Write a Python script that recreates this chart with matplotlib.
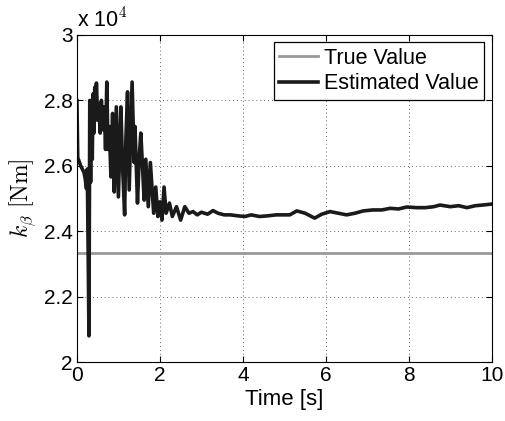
import numpy as np
import matplotlib
matplotlib.use('Agg')
import matplotlib.pyplot as plt
from matplotlib.ticker import FuncFormatter

plt.rcParams['font.family'] = ['Liberation Sans', 'DejaVu Sans']
plt.rcParams['mathtext.fontset'] = 'cm'

# stiffness estimate k_beta over time [Nm]
true_value = 23330.0

time = [0.00, 0.02, 0.05, 0.09, 0.13, 0.17, 0.20, 0.23, 0.25, 0.27, 0.29,
        0.31, 0.33, 0.35, 0.37, 0.39, 0.41, 0.43, 0.45, 0.47, 0.50, 0.53, 0.56,
        0.59, 0.62, 0.66, 0.69, 0.72, 0.75, 0.78, 0.82, 0.86, 0.90, 0.95, 1.00,
        1.06, 1.10, 1.15, 1.18, 1.22, 1.26, 1.33, 1.38, 1.40, 1.46, 1.50, 1.54,
        1.58, 1.62, 1.66, 1.72, 1.77, 1.85, 1.90, 1.95, 2.00, 2.05, 2.10, 2.15,
        2.23, 2.30, 2.40, 2.50, 2.60, 2.70,
        2.80, 2.90, 3.00, 3.15, 3.28, 3.40, 3.55, 3.70, 3.88, 4.05, 4.20, 4.40,
        4.60, 4.80, 5.00, 5.13, 5.30, 5.50, 5.73, 5.90, 6.10, 6.30, 6.50, 6.70,
        6.90, 7.13, 7.35, 7.55, 7.75, 7.95, 8.19, 8.40, 8.60, 8.75, 9.00, 9.20,
        9.40, 9.60, 9.78, 10.00]

estimate = [2.80, 2.625, 2.615, 2.60, 2.59, 2.58, 2.56, 2.53, 2.59, 2.35, 2.08,
            2.80, 2.55, 2.78, 2.62, 2.82, 2.70, 2.84, 2.74, 2.853, 2.74, 2.79, 2.70,
            2.80, 2.71, 2.78, 2.65, 2.856, 2.65, 2.72, 2.566, 2.76, 2.52, 2.78, 2.505,
            2.78, 2.60, 2.45, 2.68, 2.826, 2.526, 2.856, 2.61, 2.72, 2.486, 2.62, 2.70,
            2.60, 2.495, 2.62, 2.475, 2.61, 2.455, 2.535, 2.445, 2.49, 2.434, 2.535, 2.455,
            2.486, 2.445, 2.475, 2.434, 2.475, 2.455,
            2.46, 2.45, 2.458, 2.452, 2.463, 2.455, 2.45, 2.45, 2.447, 2.445, 2.45, 2.445,
            2.447, 2.45, 2.45, 2.45, 2.462, 2.455, 2.44, 2.452, 2.46, 2.455, 2.45, 2.455,
            2.462, 2.465, 2.465, 2.47, 2.468, 2.474, 2.472, 2.472, 2.475, 2.48, 2.475, 2.478,
            2.472, 2.478, 2.48, 2.483]
estimate = [v * 1e4 for v in estimate]

fig = plt.figure(figsize=(5.06, 4.21), dpi=100)
ax = fig.add_axes([0.152, 0.140, 0.820, 0.777])

ax.plot([0, 10], [true_value, true_value], color='0.6', lw=2.0, label='True Value')
ax.plot(time, estimate, color='0.1', lw=2.6, label='Estimated Value')

ax.set_xlim(0, 10)
ax.set_ylim(20000, 30000)
ax.set_xticks(np.arange(0, 11, 2))
ax.set_yticks(np.arange(20000, 30001, 2000))
ax.yaxis.set_major_formatter(FuncFormatter(lambda v, p: '%g' % (v / 1e4)))
ax.tick_params(direction='in', top=True, right=True, labelsize=15, length=4, width=0.8, pad=3)
ax.grid(True, color='0.4', linestyle=(0, (1, 3)), linewidth=0.7)
for s in ax.spines.values():
    s.set_linewidth(0.8)

ax.set_xlabel('Time [s]', fontsize=16, labelpad=3)
ax.set_ylabel(r'$k_\beta\ [\mathrm{Nm}]$', fontsize=17, labelpad=4)
ax.text(0.0, 1.01, r'x 10$^4$', transform=ax.transAxes, fontsize=15.5, ha='left', va='bottom')

leg = ax.legend(loc='upper right', fontsize=15.5, frameon=True, fancybox=False,
                handlelength=1.8, handletextpad=0.3, borderpad=0.25, labelspacing=0.2,
                borderaxespad=0.35)
leg.get_frame().set_edgecolor('k')
leg.get_frame().set_linewidth(0.9)
leg.get_frame().set_alpha(1)

fig.savefig('out.png', dpi=100)
